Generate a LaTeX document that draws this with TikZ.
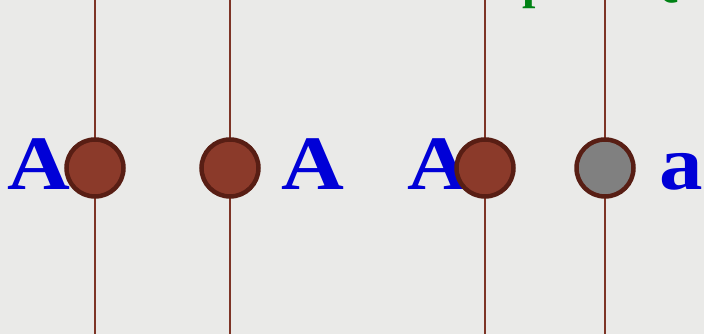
\documentclass[tikz,border=0pt]{standalone}
\usepackage{fontspec}
\setmainfont{Liberation Serif}
\usetikzlibrary{positioning}

\definecolor{wirebrown}{RGB}{125,52,38}
\definecolor{beadfill}{RGB}{139,58,42}
\definecolor{beadrim}{RGB}{88,30,20}
\definecolor{beadgray}{RGB}{128,128,128}
\definecolor{allelblue}{RGB}{0,0,215}
\definecolor{notegreen}{RGB}{0,130,20}
\definecolor{slidebg}{RGB}{234,234,232}

\begin{document}
\begin{tikzpicture}[x=1pt, y=1pt,
    wire/.style={draw=wirebrown, line width=2pt},
    bead/.style={circle, draw=beadrim, fill=beadfill, line width=4.5pt, minimum size=57pt, inner sep=0pt},
    allel/.style={text=allelblue, font=\fontsize{77}{77}\selectfont\bfseries, inner sep=0pt, xscale=1.13, transform shape},
    note/.style={text=notegreen, font=\fontsize{48}{48}\selectfont\bfseries, inner sep=0pt}]

    \useasboundingbox (0,0) rectangle (704,334);
    \clip (0,0) rectangle (704,334);
    \fill[slidebg] (0,0) rectangle (704,334);

    % top and bottom ends of the four wires
    \coordinate (t1) at (95,334);
    \coordinate[right=135pt of t1] (t2);
    \coordinate[right=255pt of t2] (t3);
    \coordinate[right=120pt of t3] (t4);
    \coordinate (u1) at (t1 |- 0,0);
    \coordinate (u2) at (t2 |- 0,0);
    \coordinate (u3) at (t3 |- 0,0);
    \coordinate (u4) at (t4 |- 0,0);

    \foreach \i in {1,...,4}
        \draw[wire] (t\i) -- (u\i);

    % cut-off labels at the top
    \node[note, anchor=base west] (n1) at (522,335) {p};
    \node[note, anchor=base west] (n2) at (642,338) {Q};

    % allele letters
    \node[allel, anchor=base west] (A1) at (7,144) {A};
    \node[allel, anchor=base west] (A2) at (281,144) {A};
    \node[allel, anchor=base west] (A3) at (407,144) {A};
    \node[allel, anchor=base west] (a4) at (659,144) {a};

    % beads on the wires
    \node[bead] (b1) at (t1 |- 0,166) {};
    \node[bead] (b2) at (t2 |- 0,166) {};
    \node[bead] (b3) at (t3 |- 0,166) {};
    \node[bead, fill=beadgray] (b4) at (t4 |- 0,166) {};

\end{tikzpicture}
\end{document}
